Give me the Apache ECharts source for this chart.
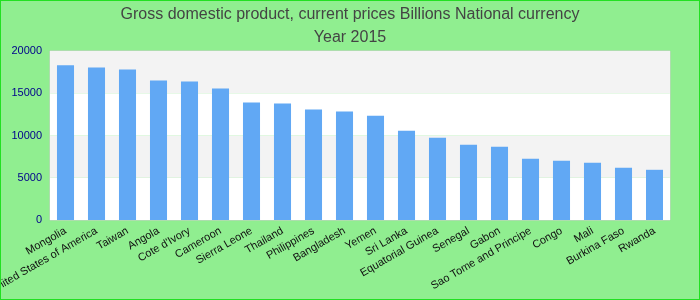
<!DOCTYPE html>
<html>
<head>
<meta charset="utf-8">
<script src="https://cdn.jsdelivr.net/npm/echarts@6/dist/echarts.min.js"></script>
<style>
html,body{margin:0;padding:0;background:#90ee90;}
#chart{width:700px;height:300px;box-sizing:border-box;border:1px solid #22e022;}
</style>
</head>
<body>
<div id="chart"></div>
<script>
var titleText = "Gross domestic product, current prices Billions National currency\nYear 2015";
var categories = ["Mongolia","United States of America","Taiwan","Angola","Cote d'Ivory","Cameroon","Sierra Leone","Thailand","Philippines","Bangladesh","Yemen","Sri Lanka","Equatorial Guinea","Senegal","Gabon","Sao Tome and Principe","Congo","Mali","Burkina Faso","Rwanda"];
var values = [18300,18050,17800,16500,16400,15550,13900,13780,13070,12830,12350,10570,9740,8910,8670,7250,7010,6770,6180,5940];
var yTicks = {min:0, max:20000, interval:5000};

var chart = echarts.init(document.getElementById('chart'), null, {renderer:'canvas'});
chart.setOption({
  backgroundColor: '#90ee90',
  animation: false,
  title: {
    text: titleText,
    left: 'center',
    top: -3,
    textStyle: {color:'#444', fontSize:16, fontWeight:'normal', fontFamily:'Liberation Sans, Arial, sans-serif', lineHeight:23}
  },
  grid: {left:49, right:29, top:50, bottom:79, show:true, borderColor:'#cccccc', borderWidth:1, backgroundColor:'transparent', containLabel:false, outerBoundsMode:'none'},
  xAxis: {
    type:'category',
    data: categories,
    axisLine:{show:false},
    axisTick:{show:false},
    axisLabel:{interval:0, rotate:30, color:'#111', fontSize:11, fontFamily:'Liberation Sans, Arial, sans-serif', margin:10}
  },
  yAxis: {
    type:'value',
    min:yTicks.min, max:yTicks.max, interval:yTicks.interval,
    axisLine:{show:false},
    axisTick:{show:false},
    splitLine:{show:false},
    splitArea:{show:true, areaStyle:{color:['#ffffff','#f3f3f3']}},
    axisLabel:{color:'#00008b', fontSize:11, fontFamily:'Liberation Sans, Arial, sans-serif', margin:8, formatter:function(v){return String(v);}}
  },
  series: [{
    type:'bar',
    data: values,
    barWidth:'55%',
    itemStyle:{color:'#61a8f4'}
  }]
});
</script>
</body>
</html>
